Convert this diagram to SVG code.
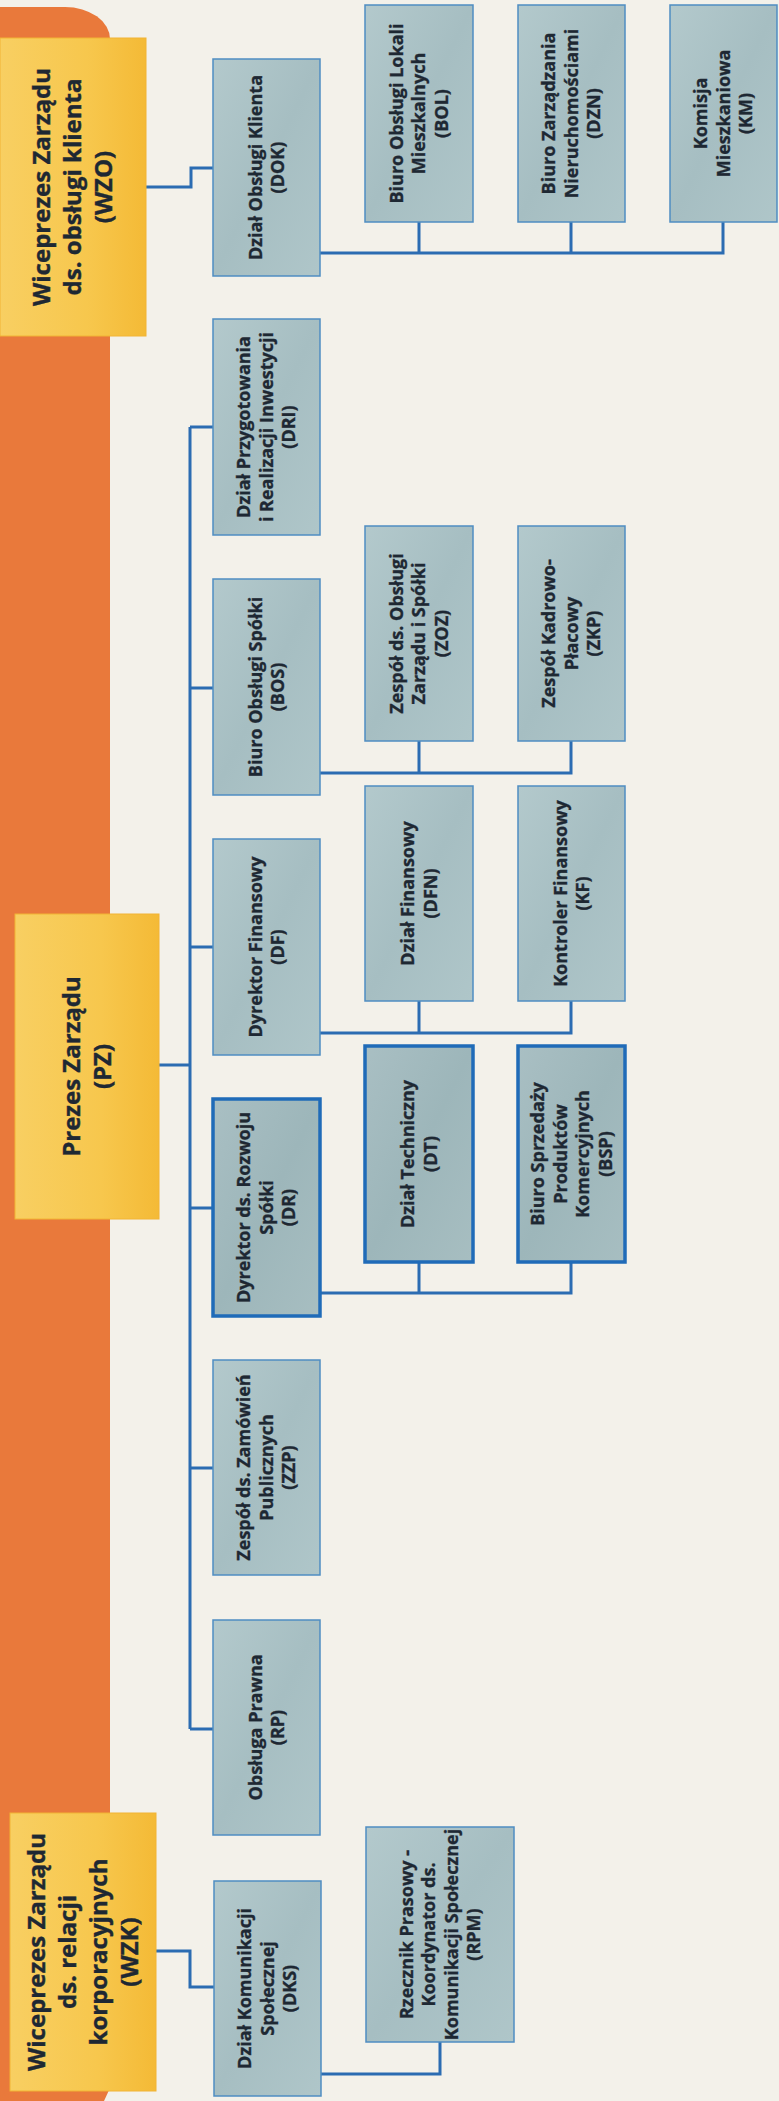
<svg xmlns="http://www.w3.org/2000/svg" width="779" height="2101" viewBox="0 0 779 2101">
<defs>
<linearGradient id="gGray" x1="0" y1="0" x2="1" y2="1">
<stop offset="0" stop-color="#b3c9cc"/>
<stop offset="0.5" stop-color="#a6bec2"/>
<stop offset="1" stop-color="#afc6c9"/>
</linearGradient>
<linearGradient id="gDark" x1="0" y1="0" x2="1" y2="1">
<stop offset="0" stop-color="#a9bfc3"/>
<stop offset="0.5" stop-color="#9db6ba"/>
<stop offset="1" stop-color="#a7bec1"/>
</linearGradient>
<linearGradient id="gYel" x1="0" y1="0" x2="1" y2="0">
<stop offset="0" stop-color="#f8cf62"/>
<stop offset="0.6" stop-color="#f7c74d"/>
<stop offset="1" stop-color="#f4ba36"/>
</linearGradient>
<style>
.bx{fill:url(#gGray);stroke:#4f8dc2;stroke-width:1.5}
.bk{fill:url(#gDark);stroke:#1f6bb8;stroke-width:3.5}
.yl{fill:url(#gYel);stroke:#f2b434;stroke-width:1}
.t{font-family:"Open Sans","Liberation Sans",sans-serif;font-weight:700;font-size:18px;fill:#1e2833;stroke:#1e2833;stroke-width:0.35;text-anchor:middle}
.ty{font-family:"Open Sans","Liberation Sans",sans-serif;font-weight:700;font-size:24px;fill:#1e2833;stroke:#1e2833;stroke-width:0.4;text-anchor:middle}
.c{fill:none;stroke:#2b6cb2;stroke-width:3}
</style>
</defs>
<rect x="0" y="0" width="779" height="2101" fill="#f3f1ea"/>
<path d="M0,7 H65 A45,32 0 0 1 110,39 V2088 L104,2101 H0 Z" fill="#e9793b"/>

<g id="connectors">
<path class="c" d="M146,187 H191 V168 H213"/>
<path class="c" d="M320,253 H723 V222 M419,222 V253 M571,222 V253"/>
<path class="c" d="M159,1065 H190 M190,427 V1729 M190,427 H213 M190,688 H213 M190,947 H213 M190,1208 H213 M190,1468 H213 M190,1729 H213"/>
<path class="c" d="M320,773 H571 V741 M419,741 V773"/>
<path class="c" d="M320,1033 H571 V1001 M419,1001 V1033"/>
<path class="c" d="M320,1293 H571 V1262 M419,1262 V1293"/>
<path class="c" d="M156,1951 H190 V1987 H214"/>
<path class="c" d="M321,2074 H440 V2042"/>
</g>

<g id="WZO"><rect class="yl" x="0" y="38" width="146" height="298"/>
<text class="ty" transform="translate(73,187) rotate(-90)"><tspan x="0" y="-22.6">Wiceprezes Zarządu</tspan><tspan x="0" y="8.4">ds. obsługi klienta</tspan><tspan x="0" y="39.4">(WZO)</tspan></text></g>

<g id="PZ"><rect class="yl" x="15" y="914" width="144" height="305"/>
<text class="ty" transform="translate(87,1066.5) rotate(-90)"><tspan x="0" y="-7.1">Prezes Zarządu</tspan><tspan x="0" y="23.9">(PZ)</tspan></text></g>

<g id="WZK"><rect class="yl" x="10" y="1813" width="146" height="278"/>
<text class="ty" transform="translate(83,1952) rotate(-90)"><tspan x="0" y="-38.1">Wiceprezes Zarządu</tspan><tspan x="0" y="-7.1">ds. relacji</tspan><tspan x="0" y="23.9">korporacyjnych</tspan><tspan x="0" y="54.9">(WZK)</tspan></text></g>

<g id="DOK"><rect class="bx" x="213" y="59" width="107" height="217"/>
<text class="t" transform="translate(266.5,167.5) rotate(-90)"><tspan x="0" y="-5">Dział Obsługi Klienta</tspan><tspan x="0" y="17.5">(DOK)</tspan></text></g>

<g id="BOL"><rect class="bx" x="365" y="5" width="108" height="217"/>
<text class="t" transform="translate(419,113.5) rotate(-90)"><tspan x="0" y="-16.2">Biuro Obsługi Lokali</tspan><tspan x="0" y="6.3">Mieszkalnych</tspan><tspan x="0" y="28.8">(BOL)</tspan></text></g>

<g id="DZN"><rect class="bx" x="518" y="5" width="107" height="217"/>
<text class="t" transform="translate(571.5,113.5) rotate(-90)"><tspan x="0" y="-16.2">Biuro Zarządzania</tspan><tspan x="0" y="6.3">Nieruchomościami</tspan><tspan x="0" y="28.8">(DZN)</tspan></text></g>

<g id="KM"><rect class="bx" x="670" y="5" width="107" height="217"/>
<text class="t" transform="translate(723.5,113.5) rotate(-90)"><tspan x="0" y="-16.2">Komisja</tspan><tspan x="0" y="6.3">Mieszkaniowa</tspan><tspan x="0" y="28.8">(KM)</tspan></text></g>

<g id="DRI"><rect class="bx" x="213" y="319" width="107" height="216"/>
<text class="t" transform="translate(266.5,427) rotate(-90)"><tspan x="0" y="-16.2">Dział Przygotowania</tspan><tspan x="0" y="6.3">i Realizacji Inwestycji</tspan><tspan x="0" y="28.8">(DRI)</tspan></text></g>

<g id="BOS"><rect class="bx" x="213" y="579" width="107" height="216"/>
<text class="t" transform="translate(266.5,687) rotate(-90)"><tspan x="0" y="-5">Biuro Obsługi Spółki</tspan><tspan x="0" y="17.5">(BOS)</tspan></text></g>

<g id="ZOZ"><rect class="bx" x="365" y="526" width="108" height="215"/>
<text class="t" transform="translate(419,633.5) rotate(-90)"><tspan x="0" y="-16.2">Zespół ds. Obsługi</tspan><tspan x="0" y="6.3">Zarządu i Spółki</tspan><tspan x="0" y="28.8">(ZOZ)</tspan></text></g>

<g id="ZKP"><rect class="bx" x="518" y="526" width="107" height="215"/>
<text class="t" transform="translate(571.5,633.5) rotate(-90)"><tspan x="0" y="-16.2">Zespół Kadrowo-</tspan><tspan x="0" y="6.3">Płacowy</tspan><tspan x="0" y="28.8">(ZKP)</tspan></text></g>

<g id="DF"><rect class="bx" x="213" y="839" width="107" height="216"/>
<text class="t" transform="translate(266.5,947) rotate(-90)"><tspan x="0" y="-5">Dyrektor Finansowy</tspan><tspan x="0" y="17.5">(DF)</tspan></text></g>

<g id="DFN"><rect class="bx" x="365" y="786" width="108" height="215"/>
<text class="t" transform="translate(419,893.5) rotate(-90)"><tspan x="0" y="-5">Dział Finansowy</tspan><tspan x="0" y="17.5">(DFN)</tspan></text></g>

<g id="KF"><rect class="bx" x="518" y="786" width="107" height="215"/>
<text class="t" transform="translate(571.5,893.5) rotate(-90)"><tspan x="0" y="-5">Kontroler Finansowy</tspan><tspan x="0" y="17.5">(KF)</tspan></text></g>

<g id="DR"><rect class="bk" x="213" y="1099" width="107" height="217"/>
<text class="t" transform="translate(266.5,1207.5) rotate(-90)"><tspan x="0" y="-16.2">Dyrektor ds. Rozwoju</tspan><tspan x="0" y="6.3">Spółki</tspan><tspan x="0" y="28.8">(DR)</tspan></text></g>

<g id="DT"><rect class="bk" x="365" y="1046" width="108" height="216"/>
<text class="t" transform="translate(419,1154) rotate(-90)"><tspan x="0" y="-5">Dział Techniczny</tspan><tspan x="0" y="17.5">(DT)</tspan></text></g>

<g id="BSP"><rect class="bk" x="518" y="1046" width="107" height="216"/>
<text class="t" transform="translate(571.5,1154) rotate(-90)"><tspan x="0" y="-27.5">Biuro Sprzedaży</tspan><tspan x="0" y="-5">Produktów</tspan><tspan x="0" y="17.5">Komercyjnych</tspan><tspan x="0" y="40">(BSP)</tspan></text></g>

<g id="ZZP"><rect class="bx" x="213" y="1360" width="107" height="215"/>
<text class="t" transform="translate(266.5,1467.5) rotate(-90)"><tspan x="0" y="-16.2">Zespół ds. Zamówień</tspan><tspan x="0" y="6.3">Publicznych</tspan><tspan x="0" y="28.8">(ZZP)</tspan></text></g>

<g id="RP"><rect class="bx" x="213" y="1620" width="107" height="215"/>
<text class="t" transform="translate(266.5,1727.5) rotate(-90)"><tspan x="0" y="-5">Obsługa Prawna</tspan><tspan x="0" y="17.5">(RP)</tspan></text></g>

<g id="DKS"><rect class="bx" x="214" y="1881" width="107" height="215"/>
<text class="t" transform="translate(267.5,1988.5) rotate(-90)"><tspan x="0" y="-16.2">Dział Komunikacji</tspan><tspan x="0" y="6.3">Społecznej</tspan><tspan x="0" y="28.8">(DKS)</tspan></text></g>

<g id="RPM"><rect class="bx" x="366" y="1827" width="148" height="215"/>
<text class="t" transform="translate(440,1934.5) rotate(-90)"><tspan x="0" y="-27.5">Rzecznik Prasowy -</tspan><tspan x="0" y="-5">Koordynator ds.</tspan><tspan x="0" y="17.5">Komunikacji Społecznej</tspan><tspan x="0" y="40">(RPM)</tspan></text></g>
</svg>
